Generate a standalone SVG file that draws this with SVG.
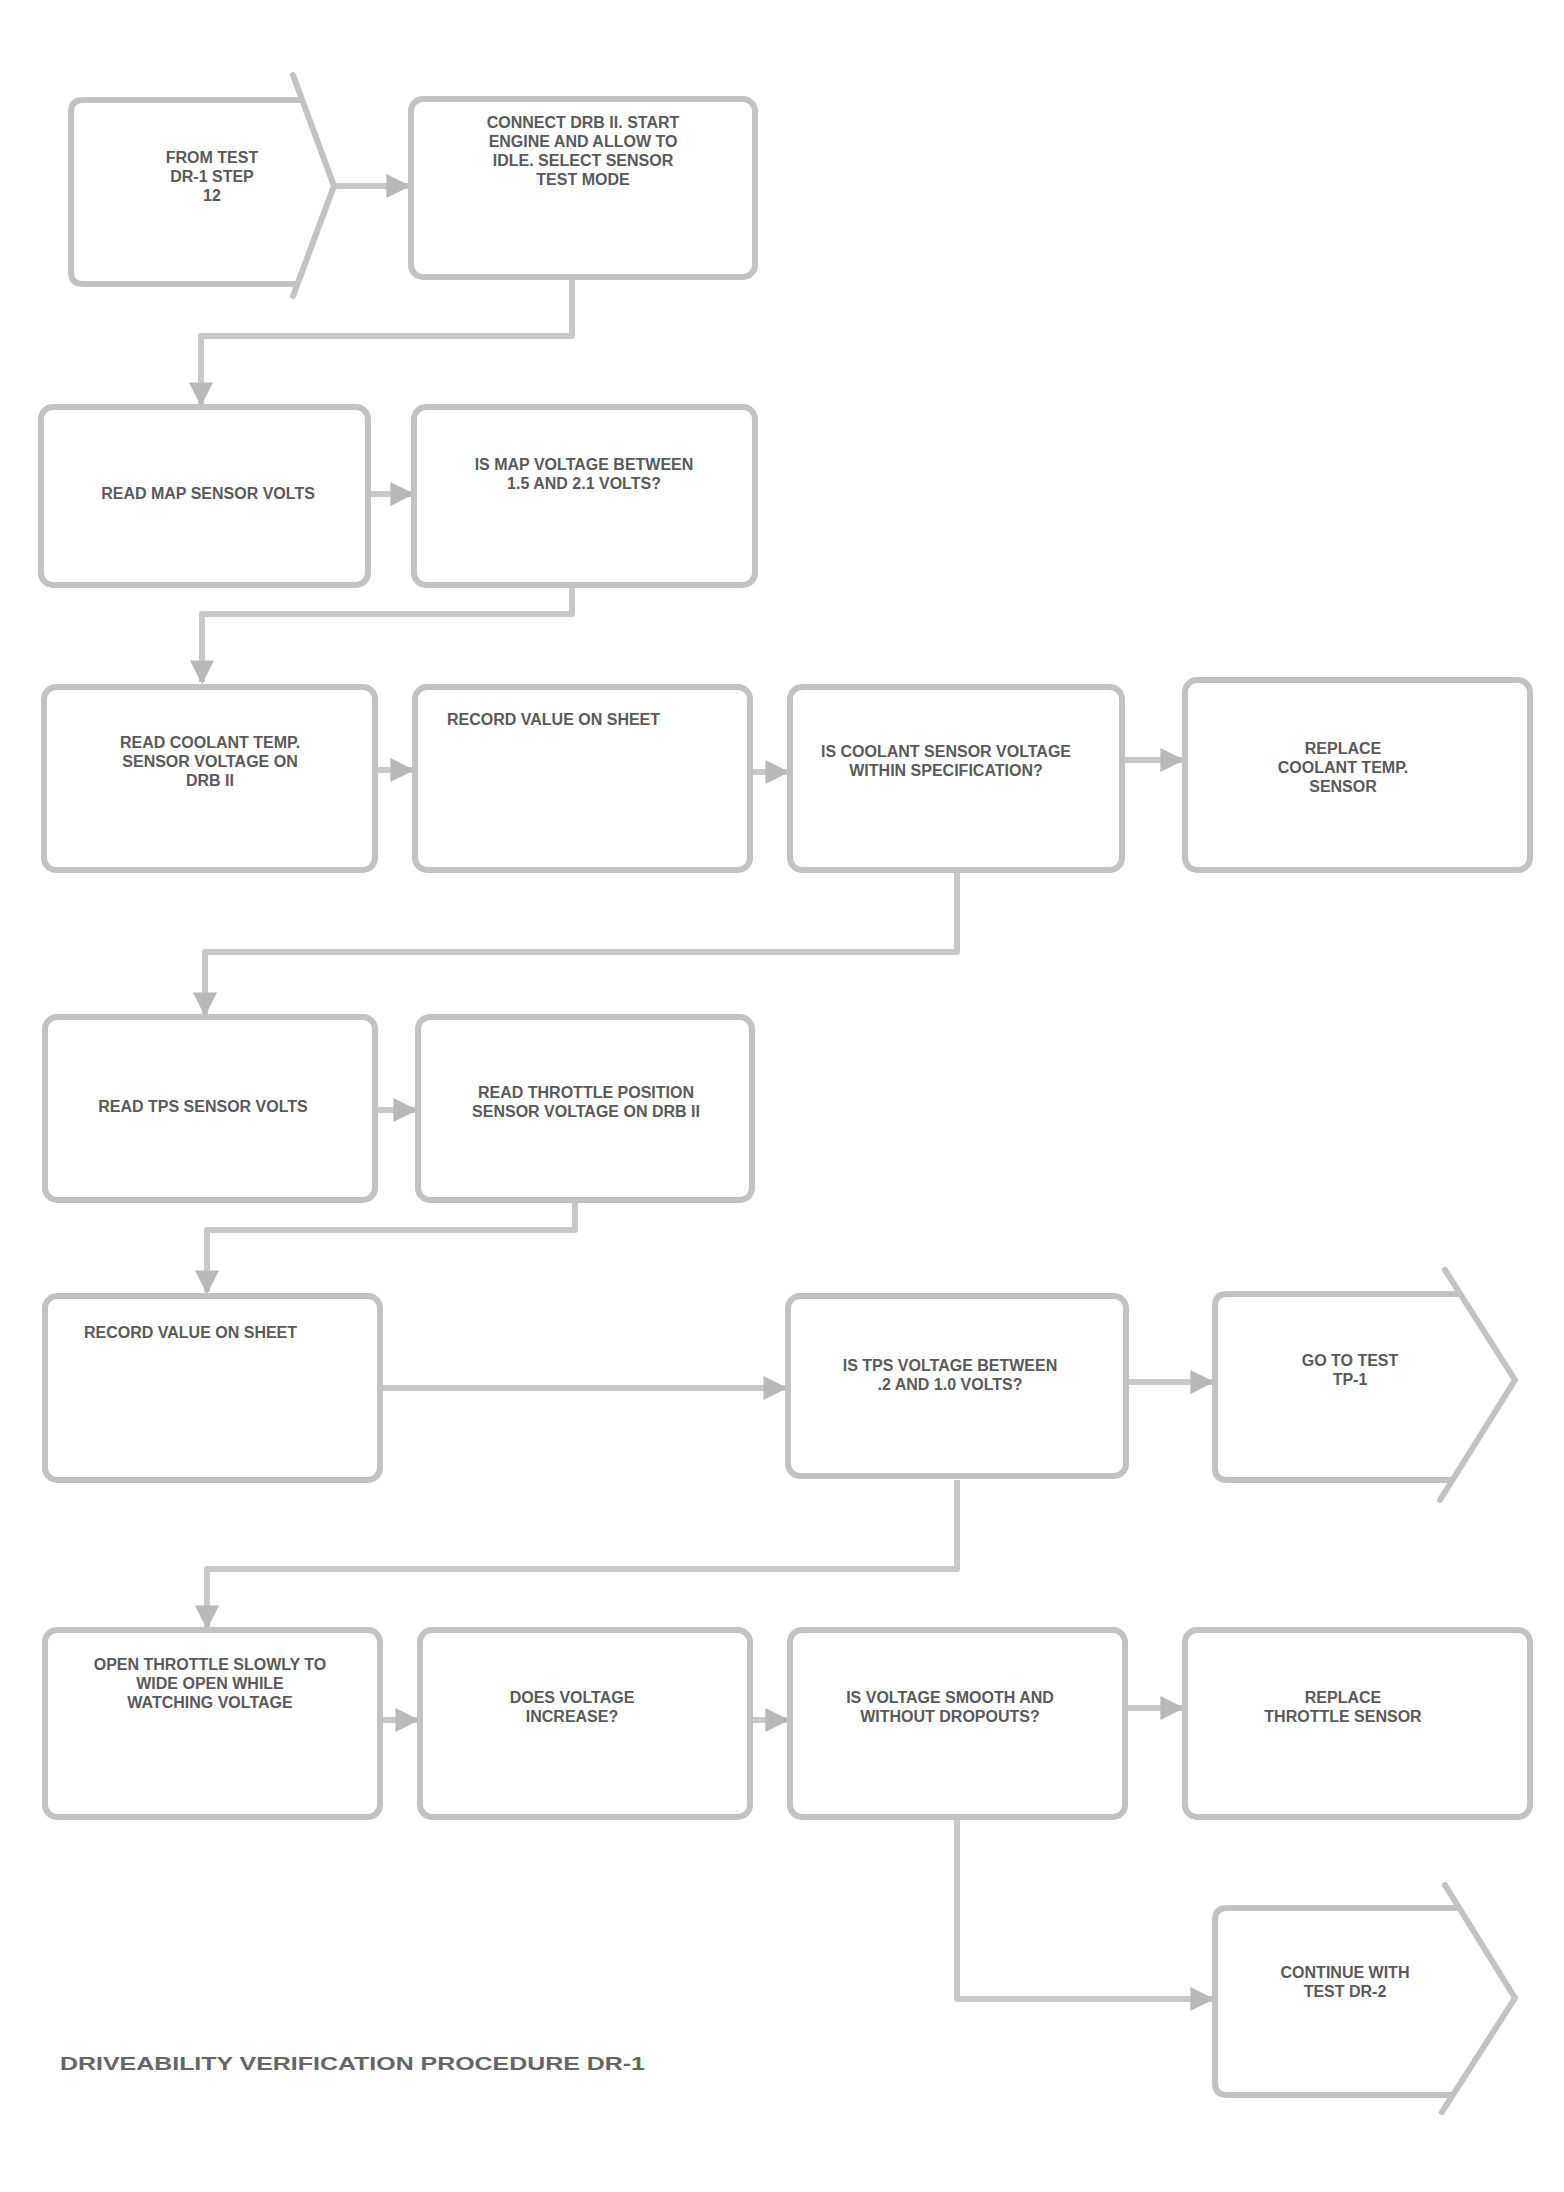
<svg xmlns="http://www.w3.org/2000/svg" width="1564" height="2192" viewBox="0 0 1564 2192">
<style>
.box{fill:#ffffff;stroke:#c2c2c2;stroke-width:6;stroke-linejoin:round}
.chev{fill:none;stroke:#c2c2c2;stroke-width:6;stroke-linejoin:round;stroke-linecap:round}
.ln{fill:none;stroke:#c8c8c8;stroke-width:6;stroke-linejoin:round}
.t{font-family:"Liberation Sans",Arial,sans-serif;font-size:16px;font-weight:bold;fill:#5a5a5a;text-anchor:middle}
.tl{font-family:"Liberation Sans",Arial,sans-serif;font-size:16px;font-weight:bold;fill:#5a5a5a;text-anchor:start}
.cap{font-family:"Liberation Sans",Arial,sans-serif;font-size:18px;font-weight:bold;fill:#666666}
</style>
<defs>
<marker id="arr" viewBox="0 0 10 10" refX="9" refY="5" markerWidth="4" markerHeight="4" orient="auto" markerUnits="strokeWidth">
<path d="M0,0 L10,5 L0,10 Z" fill="#b8b8b8"/>
</marker>
</defs>
<rect width="1564" height="2192" fill="#ffffff"/>

<g id="connectors">
<path class="ln" d="M334,186 L408,186" marker-end="url(#arr)"/>
<path class="ln" d="M572,277 L572,336 L201,336 L201,404" marker-end="url(#arr)"/>
<path class="ln" d="M368,494 L412,494" marker-end="url(#arr)"/>
<path class="ln" d="M572,585 L572,614 L202,614 L202,682" marker-end="url(#arr)"/>
<path class="ln" d="M375,770 L412,770" marker-end="url(#arr)"/>
<path class="ln" d="M750,772 L787,772" marker-end="url(#arr)"/>
<path class="ln" d="M1122,760 L1182,760" marker-end="url(#arr)"/>
<path class="ln" d="M957,870 L957,952 L205,952 L205,1014" marker-end="url(#arr)"/>
<path class="ln" d="M375,1110 L415,1110" marker-end="url(#arr)"/>
<path class="ln" d="M575,1200 L575,1230 L207,1230 L207,1292" marker-end="url(#arr)"/>
<path class="ln" d="M380,1388 L785,1388" marker-end="url(#arr)"/>
<path class="ln" d="M1126,1382 L1212,1382" marker-end="url(#arr)"/>
<path class="ln" d="M957,1480 L957,1569 L207,1569 L207,1627" marker-end="url(#arr)"/>
<path class="ln" d="M380,1720 L417,1720" marker-end="url(#arr)"/>
<path class="ln" d="M750,1720 L787,1720" marker-end="url(#arr)"/>
<path class="ln" d="M1125,1708 L1182,1708" marker-end="url(#arr)"/>
<path class="ln" d="M957,1817 L957,1999 L1212,1999" marker-end="url(#arr)"/>
</g>

<g id="n1">
<path class="box" d="M302,100 L83,100 Q71,100 71,112 L71,272 Q71,284 83,284 L297,284"/>
<path class="chev" d="M293,75 L334,186 L293,296"/>
<text class="t" x="212" y="163">FROM TEST</text>
<text class="t" x="212" y="182">DR-1 STEP</text>
<text class="t" x="212" y="201">12</text>
</g>

<g id="n2">
<rect class="box" x="411" y="99" width="344" height="178" rx="12"/>
<text class="t" x="583" y="128">CONNECT DRB II. START</text>
<text class="t" x="583" y="147">ENGINE AND ALLOW TO</text>
<text class="t" x="583" y="166">IDLE. SELECT SENSOR</text>
<text class="t" x="583" y="185">TEST MODE</text>
</g>

<g id="n3">
<rect class="box" x="41" y="407" width="327" height="178" rx="12"/>
<text class="t" x="208" y="499">READ MAP SENSOR VOLTS</text>
</g>

<g id="n4">
<rect class="box" x="414" y="407" width="341" height="178" rx="12"/>
<text class="t" x="584" y="470">IS MAP VOLTAGE BETWEEN</text>
<text class="t" x="584" y="489">1.5 AND 2.1 VOLTS?</text>
</g>

<g id="n5">
<rect class="box" x="44" y="687" width="331" height="183" rx="12"/>
<text class="t" x="210" y="748">READ COOLANT TEMP.</text>
<text class="t" x="210" y="767">SENSOR VOLTAGE ON</text>
<text class="t" x="210" y="786">DRB II</text>
</g>

<g id="n6">
<rect class="box" x="415" y="687" width="335" height="183" rx="12"/>
<text class="tl" x="447" y="725">RECORD VALUE ON SHEET</text>
</g>

<g id="n7">
<rect class="box" x="790" y="687" width="332" height="183" rx="12"/>
<text class="t" x="946" y="757">IS COOLANT SENSOR VOLTAGE</text>
<text class="t" x="946" y="776">WITHIN SPECIFICATION?</text>
</g>

<g id="n8">
<rect class="box" x="1185" y="680" width="345" height="190" rx="12"/>
<text class="t" x="1343" y="754">REPLACE</text>
<text class="t" x="1343" y="773">COOLANT TEMP.</text>
<text class="t" x="1343" y="792">SENSOR</text>
</g>

<g id="n9">
<rect class="box" x="45" y="1017" width="330" height="183" rx="12"/>
<text class="t" x="203" y="1112">READ TPS SENSOR VOLTS</text>
</g>

<g id="n10">
<rect class="box" x="418" y="1017" width="334" height="183" rx="12"/>
<text class="t" x="586" y="1098">READ THROTTLE POSITION</text>
<text class="t" x="586" y="1117">SENSOR VOLTAGE ON DRB II</text>
</g>

<g id="n11">
<rect class="box" x="45" y="1296" width="335" height="184" rx="12"/>
<text class="tl" x="84" y="1338">RECORD VALUE ON SHEET</text>
</g>

<g id="n12">
<rect class="box" x="788" y="1296" width="338" height="180" rx="12"/>
<text class="t" x="950" y="1371">IS TPS VOLTAGE BETWEEN</text>
<text class="t" x="950" y="1390">.2 AND 1.0 VOLTS?</text>
</g>

<g id="n13">
<path class="box" d="M1460,1294 L1227,1294 Q1215,1294 1215,1306 L1215,1468 Q1215,1480 1227,1480 L1452,1480"/>
<path class="chev" d="M1445,1270 L1515,1380 L1440,1500"/>
<text class="t" x="1350" y="1366">GO TO TEST</text>
<text class="t" x="1350" y="1385">TP-1</text>
</g>

<g id="n14">
<rect class="box" x="45" y="1630" width="335" height="187" rx="12"/>
<text class="t" x="210" y="1670">OPEN THROTTLE SLOWLY TO</text>
<text class="t" x="210" y="1689">WIDE OPEN WHILE</text>
<text class="t" x="210" y="1708">WATCHING VOLTAGE</text>
</g>

<g id="n15">
<rect class="box" x="420" y="1630" width="330" height="187" rx="12"/>
<text class="t" x="572" y="1703">DOES VOLTAGE</text>
<text class="t" x="572" y="1722">INCREASE?</text>
</g>

<g id="n16">
<rect class="box" x="790" y="1630" width="335" height="187" rx="12"/>
<text class="t" x="950" y="1703">IS VOLTAGE SMOOTH AND</text>
<text class="t" x="950" y="1722">WITHOUT DROPOUTS?</text>
</g>

<g id="n17">
<rect class="box" x="1185" y="1630" width="345" height="187" rx="12"/>
<text class="t" x="1343" y="1703">REPLACE</text>
<text class="t" x="1343" y="1722">THROTTLE SENSOR</text>
</g>

<g id="n18">
<path class="box" d="M1459,1908 L1227,1908 Q1215,1908 1215,1920 L1215,2083 Q1215,2095 1227,2095 L1453,2095"/>
<path class="chev" d="M1445,1885 L1515,1998 L1442,2112"/>
<text class="t" x="1345" y="1978">CONTINUE WITH</text>
<text class="t" x="1345" y="1997">TEST DR-2</text>
</g>

<g id="caption">
<text class="cap" x="60" y="2070" textLength="585" lengthAdjust="spacingAndGlyphs">DRIVEABILITY VERIFICATION PROCEDURE DR-1</text>
</g>
</svg>
